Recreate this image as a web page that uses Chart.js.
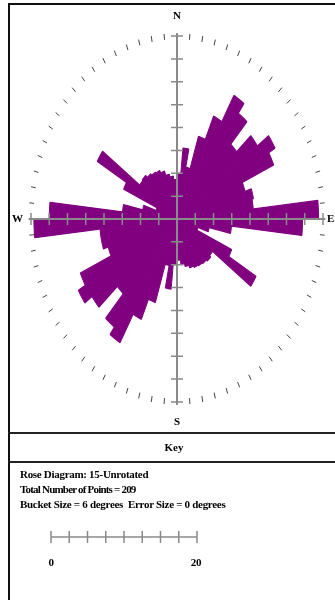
<!DOCTYPE html>
<html>
<head>
<meta charset="utf-8">
<script src="https://cdn.jsdelivr.net/npm/chart.js@4.4.0/dist/chart.umd.min.js"></script>
<style>
  html, body { margin: 0; padding: 0; background: #fff; }
  body { width: 335px; height: 600px; position: relative; overflow: hidden; font-family: "Liberation Serif", "DejaVu Serif", serif; }
  #wrap { position: absolute; left: 0; top: 0; width: 335px; height: 600px; }
  .frame { position: absolute; left: 8px; top: 3px; width: 340px; height: 600px; border-left: 2px solid #111; border-top: 2px solid #111; }
  .rule { position: absolute; left: 8px; width: 340px; height: 0; border-top: 2px solid #222; }
  .lbl { position: absolute; font-weight: bold; color: #000; white-space: nowrap; line-height: 1; }
  .dir { font-size: 11px; }
  .c { transform: translateX(-50%); }
  .key { font-size: 11px; left: 20px; letter-spacing: -0.3px; }
</style>
</head>
<body>
<div class="frame"></div>
<div class="rule" style="top:432px"></div>
<div class="rule" style="top:461px"></div>
<div id="wrap"><canvas id="rose"></canvas></div>

<div class="lbl dir c" style="left:177px; top:10px">N</div>
<div class="lbl dir c" style="left:177px; top:416px">S</div>
<div class="lbl dir" style="left:12px; top:213px">W</div>
<div class="lbl dir" style="left:327px; top:213px">E</div>
<div class="lbl dir c" style="left:174px; top:442px">Key</div>
<div class="lbl key" style="top:469px">Rose Diagram: 15-Unrotated</div>
<div class="lbl key" style="top:484px; letter-spacing:-0.8px">Total Number of Points = 209</div>
<div class="lbl key" style="top:499px">Bucket Size = 6 degrees&nbsp; Error Size = 0 degrees</div>
<div class="lbl key c" id="bar0" style="left:51px; top:557px"></div>
<div class="lbl key c" id="bar1" style="left:196px; top:557px"></div>

<script>
// 6 degree buckets, clockwise from north
const bucketStart = [0, 6, 12, 18, 24, 30, 36, 42, 48, 54, 60, 66, 72, 78, 84, 90, 96, 102, 108, 114,
  120, 126, 132, 138, 144, 150, 156, 162, 168, 174, 180, 186, 192, 198, 204, 210, 216, 222, 228, 234,
  240, 246, 252, 258, 264, 270, 276, 282, 288, 294, 300, 306, 312, 318, 324, 330, 336, 342, 348, 354];

// bucket lengths, 0-174 deg and 180-354 deg
const eastHalf = [5.0, 7.8, 5.8, 9.5, 12.3, 15.6, 14.3, 11.0, 13.6, 15.5, 14.5, 9.8, 10.7, 10.5, 19.4,
  17.2, 7.5, 4.5, 3.0, 8.2, 12.5, 6.0, 6.2, 6.0, 5.9, 5.8, 5.6, 5.3, 5.0, 4.5];
const westHalf = [5.0, 7.7, 5.2, 9.6, 12.0, 15.6, 14.6, 11.0, 14.4, 15.6, 14.5, 9.9, 10.6, 10.6, 19.6,
  17.5, 7.5, 4.8, 3.0, 8.0, 12.6, 6.3, 6.4, 6.1, 5.9, 5.8, 5.5, 5.0, 4.7, 4.3];

const axisTicks = [2.5, 5, 7.5, 10, 12.5, 15, 17.5, 20];
const scaleBarLabels = ['0', '20'];
const scaleMax = 20;
const yStretch = 1.2534;   // the plot is drawn as an ellipse
const purple = '#800080';

document.getElementById('bar0').textContent = scaleBarLabels[0];
document.getElementById('bar1').textContent = scaleBarLabels[1];

const rosePlugin = {
  id: 'rose',
  beforeDatasetsDraw(chart) {
    const r = chart.scales.r, ctx = chart.ctx;
    ctx.save();
    ctx.translate(r.xCenter, r.yCenter);
    ctx.scale(1, yStretch);
    ctx.translate(-r.xCenter, -r.yCenter);
  },
  afterDatasetsDraw(chart) {
    const r = chart.scales.r, ctx = chart.ctx;
    ctx.restore();
    const cx = r.xCenter, cy = r.yCenter;
    const px = v => r.getDistanceFromCenterForValue(v);

    // compass marks every 5 degrees
    ctx.save();
    ctx.strokeStyle = '#444';
    ctx.lineWidth = 1;
    for (let a = 0; a < 360; a += 5) {
      const t = a * Math.PI / 180;
      const r0 = px(19.65), r1 = px(20.3);
      ctx.beginPath();
      ctx.moveTo(cx + r0 * Math.sin(t), cy - r0 * Math.cos(t) * yStretch);
      ctx.lineTo(cx + r1 * Math.sin(t), cy - r1 * Math.cos(t) * yStretch);
      ctx.stroke();
    }

    // axes cross
    ctx.strokeStyle = '#8a8a8a';
    ctx.lineWidth = 2;
    const reach = px(20.3);
    ctx.beginPath();
    ctx.moveTo(cx - reach, cy); ctx.lineTo(cx + reach, cy);
    ctx.moveTo(cx, cy - reach * yStretch); ctx.lineTo(cx, cy + reach * yStretch);
    ctx.stroke();
    ctx.lineWidth = 1.5;
    ctx.beginPath();
    axisTicks.forEach(v => {
      const d = px(v);
      ctx.moveTo(cx + d, cy - 6); ctx.lineTo(cx + d, cy + 6);
      ctx.moveTo(cx - d, cy - 6); ctx.lineTo(cx - d, cy + 6);
      ctx.moveTo(cx - 6, cy - d * yStretch); ctx.lineTo(cx + 6, cy - d * yStretch);
      ctx.moveTo(cx - 6, cy + d * yStretch); ctx.lineTo(cx + 6, cy + d * yStretch);
    });
    ctx.stroke();

    // scale bar in the key
    const bx = 51, by = 537;
    ctx.beginPath();
    ctx.moveTo(bx, by); ctx.lineTo(bx + px(scaleMax), by);
    ctx.moveTo(bx, by - 6); ctx.lineTo(bx, by + 6);
    axisTicks.forEach(v => {
      ctx.moveTo(bx + px(v), by - 6); ctx.lineTo(bx + px(v), by + 6);
    });
    ctx.stroke();
    ctx.restore();
  }
};

new Chart(document.getElementById('rose'), {
  type: 'polarArea',
  data: {
    labels: bucketStart,
    datasets: [{
      data: eastHalf.concat(westHalf),
      backgroundColor: purple,
      borderColor: purple,
      borderWidth: 1,
      borderAlign: 'center',
      clip: false
    }]
  },
  options: {
    responsive: true,
    maintainAspectRatio: false,
    animation: false,
    events: [],
    elements: { arc: { borderColor: purple, borderWidth: 1 } },
    layout: { padding: { left: 31, right: 12, top: 73, bottom: 235 } },
    scales: {
      r: {
        min: 0,
        max: scaleMax,
        startAngle: 0,
        ticks: { display: false },
        grid: { display: false },
        angleLines: { display: false },
        pointLabels: { display: false }
      }
    },
    plugins: {
      legend: { display: false },
      tooltip: { enabled: false }
    }
  },
  plugins: [rosePlugin]
});
</script>
</body>
</html>
